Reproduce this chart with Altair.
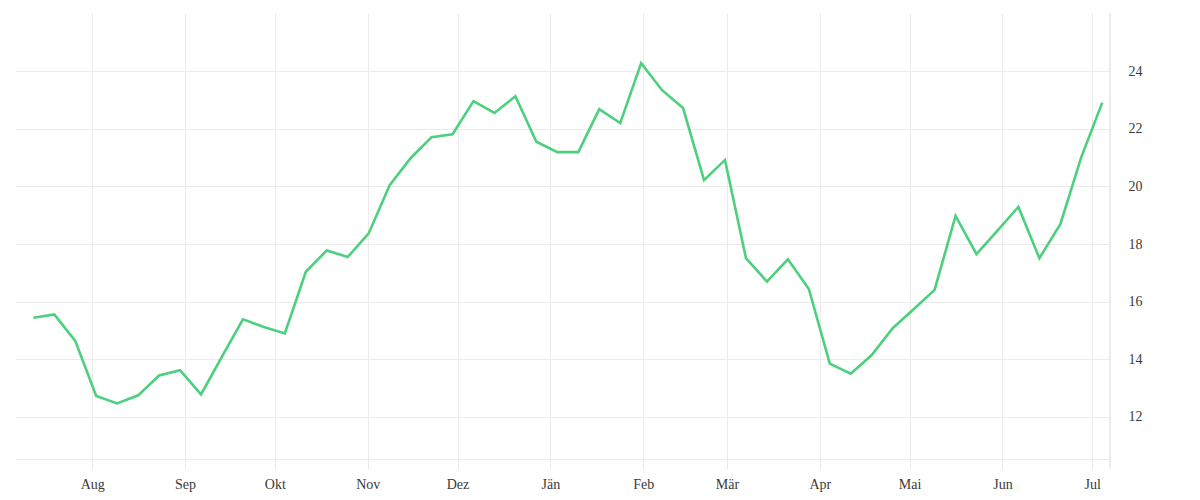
import altair as alt
import pandas as pd

start = "2020-07-12"
values = [15.44, 15.56, 14.64, 12.73, 12.47, 12.75, 13.44, 13.62, 12.78, 14.09,
          15.39, 15.12, 14.90, 17.04, 17.78, 17.55, 18.37, 20.04, 20.98, 21.71,
          21.81, 22.96, 22.55, 23.13, 21.55, 21.19, 21.19, 22.68, 22.20, 24.28,
          23.34, 22.72, 20.22, 20.92, 17.51, 16.70, 17.47, 16.44, 13.85, 13.50,
          14.15, 15.08, 15.74, 16.41, 18.98, 17.65, 18.47, 19.29, 17.51, 18.69,
          21.02, 22.91]
dates = [d.strftime("%Y-%m-%dT08:00:00Z") for d in pd.date_range(start, periods=len(values), freq="7D")]
month_names = ["Jän", "Feb", "Mär", "Apr", "Mai", "Jun", "Jul", "Aug", "Sep", "Okt", "Nov", "Dez"]
y_ticks = [12, 14, 16, 18, 20, 22, 24]

df = pd.DataFrame({"date": dates, "value": values})

GRID = "#ebebeb"
FONT = "Liberation Serif"
W, H = 1095, 446

x_dom = [alt.DateTime(year=2020, month=7, date=6, hours=5, utc=True),
         alt.DateTime(year=2021, month=7, date=6, hours=22, utc=True)]

line = alt.Chart(df).mark_line(color="#4cd07d", strokeWidth=2.6).encode(
    x=alt.X("date:T",
            scale=alt.Scale(type="utc", domain=x_dom),
            axis=alt.Axis(title=None, grid=True, gridColor=GRID, tickColor=GRID,
                          domainColor=GRID, tickSize=10, labelPadding=8,
                          tickCount={"interval": "month", "step": 1},
                          labelExpr="%s[utcmonth(datum.value)]" % str(month_names),
                          labelFont=FONT, labelFontSize=14, labelColor="#3a3a3a")),
    y=alt.Y("value:Q",
            scale=alt.Scale(domain=[10.54, 26.02], nice=False, zero=False),
            axis=alt.Axis(title=None, orient="right", values=y_ticks, grid=True,
                          gridColor=GRID, ticks=False, domain=False, labelPadding=18,
                          labelFont=FONT, labelFontSize=14, labelColor="#3a3a3a")),
)

edge = alt.Chart(df).mark_rule(color=GRID, strokeWidth=1, clip=False).encode(
    x=alt.value(W), y=alt.value(0), y2=alt.value(H + 10)
)

chart = alt.layer(edge, line).properties(
    width=W, height=H, background="white",
    padding={"left": 7, "top": 4, "right": 5, "bottom": 5},
).configure_view(strokeWidth=0, stroke="transparent")

chart.save("out.html", embed_options={"renderer": "svg", "actions": False})
